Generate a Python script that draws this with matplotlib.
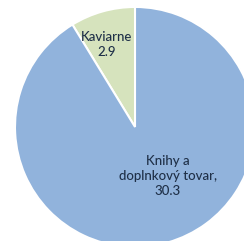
import matplotlib
matplotlib.use("Agg")
import matplotlib.pyplot as plt

# Data
labels = ["Kaviarne", "Knihy a\ndoplnkový tovar,"]
values = [2.9, 30.3]
colors = ["#d6e3bd", "#91b3dc"]

plt.rcParams["font.family"] = ["Lato", "DejaVu Sans"]

fig = plt.figure(figsize=(2.44, 2.41), dpi=100)
ax = fig.add_axes([0, 0, 1, 1])

wedges, _ = ax.pie(values, colors=colors, startangle=90, counterclock=True,
                   radius=1.0, center=(0, 0),
                   wedgeprops=dict(edgecolor="white", linewidth=1.5))

ax.set_xlim(-1.125, 0.908)
ax.set_ylim(-0.95, 1.058)
ax.set_aspect("equal")
ax.axis("off")

txt_color = "#1f3048"
ax.text(-0.235, 0.69, f"{labels[0]}\n{values[0]}", ha="center", va="center",
        fontsize=9.5, color=txt_color, linespacing=1.3, fontweight="medium")
ax.text(0.275, -0.41, f"{labels[1]}\n{values[1]}", ha="center", va="center",
        fontsize=9.5, color=txt_color, linespacing=1.3, fontweight="medium")

fig.savefig("out.png", dpi=100)
